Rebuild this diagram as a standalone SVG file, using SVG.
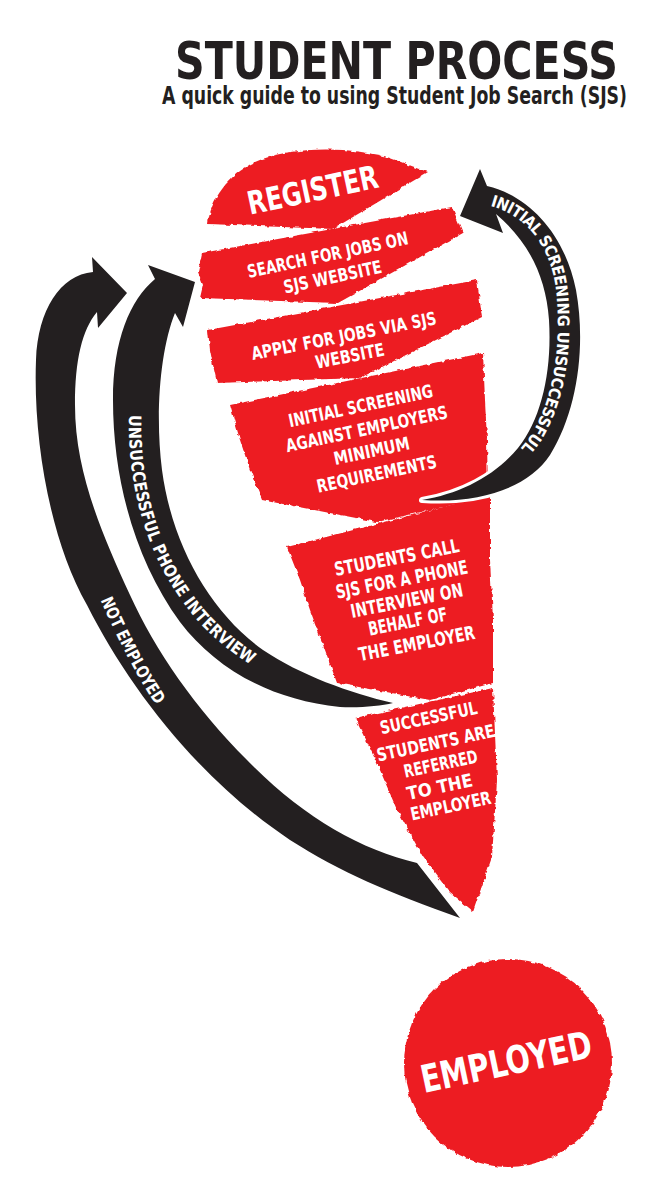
<svg xmlns="http://www.w3.org/2000/svg" width="667" height="1200" viewBox="0 0 667 1200">
<defs>
<style>
.t{font-family:"DejaVu Sans Condensed","DejaVu Sans","Liberation Sans",sans-serif;font-weight:bold;font-stretch:condensed}
.red{fill:#ed1c24}
.w{fill:#ffffff;text-anchor:middle}
.arrow{fill:#231f20;stroke:#ffffff;stroke-width:6;stroke-linejoin:round;paint-order:stroke}
.lab{fill:#ffffff;dominant-baseline:central}
</style>
<filter id="rough" x="-5%" y="-5%" width="110%" height="110%">
<feTurbulence type="fractalNoise" baseFrequency="0.18" numOctaves="2" seed="3" result="n"/>
<feDisplacementMap in="SourceGraphic" in2="n" scale="4" xChannelSelector="R" yChannelSelector="G"/>
</filter>
<path id="pRight" d="M 492,200 C 535,212 560,250 563,300 C 566,350 560,400 535,440 C 515,468 490,482 470,490"/>
<path id="pMid" d="M 135,415 C 133,500 160,570 205,620 C 225,640 240,652 262,664"/>
<path id="pLeft" d="M 105,595 C 120,630 140,672 168,712"/>
</defs>
<rect width="667" height="1200" fill="#ffffff"/>

<g id="title" class="t">
<text x="175" y="79" font-size="51" fill="#231f20" textLength="443" lengthAdjust="spacingAndGlyphs">STUDENT PROCESS</text>
<text x="162" y="104" font-size="24" fill="#231f20" textLength="465" lengthAdjust="spacingAndGlyphs">A quick guide to using Student Job Search (SJS)</text>
</g>

<g id="register">
<path class="red" filter="url(#rough)" d="M 208,224 C 210,200 228,175 255,162 C 290,146 350,146 390,158 L 428,172 L 333,229 Z"/>
<text class="t w" font-size="32" transform="translate(315,201) rotate(-12)" textLength="133" lengthAdjust="spacingAndGlyphs">REGISTER</text>
</g>

<g id="search">
<path class="red" filter="url(#rough)" d="M 202,253 L 452,207 L 463,233 L 338,303 L 200,298 L 203,285 L 198,272 Z"/>
<g class="t w" font-size="18">
<text transform="translate(329,261) rotate(-12)" textLength="164" lengthAdjust="spacingAndGlyphs">SEARCH FOR JOBS ON</text>
<text transform="translate(334,283) rotate(-12)" textLength="100" lengthAdjust="spacingAndGlyphs">SJS WEBSITE</text>
</g>
</g>

<g id="apply">
<path class="red" filter="url(#rough)" d="M 208,330 L 477,280 L 482,317 L 360,378 L 217,383 L 213,365 L 210,350 Z"/>
<g class="t w" font-size="18">
<text transform="translate(345,342) rotate(-11)" textLength="188" lengthAdjust="spacingAndGlyphs">APPLY FOR JOBS VIA SJS</text>
<text transform="translate(351,362) rotate(-11)" textLength="70" lengthAdjust="spacingAndGlyphs">WEBSITE</text>
</g>
</g>

<g id="screening">
<path class="red" filter="url(#rough)" d="M 230,405 L 483,353 L 485,400 L 487,440 L 488,497 L 377,522 L 262,500 L 250,470 L 240,440 Z"/>
<g class="t w" font-size="18">
<text transform="translate(362,412) rotate(-12)" textLength="147" lengthAdjust="spacingAndGlyphs">INITIAL SCREENING</text>
<text transform="translate(368,435) rotate(-12)" textLength="165" lengthAdjust="spacingAndGlyphs">AGAINST EMPLOYERS</text>
<text transform="translate(373,457) rotate(-12)" textLength="77" lengthAdjust="spacingAndGlyphs">MINIMUM</text>
<text transform="translate(378,480) rotate(-12)" textLength="122" lengthAdjust="spacingAndGlyphs">REQUIREMENTS</text>
</g>
</g>

<g id="phone">
<path class="red" filter="url(#rough)" d="M 287,547 L 490,495 L 490,560 L 493,620 L 493,683 L 430,700 L 337,683 L 325,650 L 310,610 L 300,580 Z"/>
<g class="t w" font-size="19">
<text transform="translate(398,564) rotate(-11)" textLength="127" lengthAdjust="spacingAndGlyphs">STUDENTS CALL</text>
<text transform="translate(403,586) rotate(-11)" textLength="134" lengthAdjust="spacingAndGlyphs">SJS FOR A PHONE</text>
<text transform="translate(408,607) rotate(-11)" textLength="114" lengthAdjust="spacingAndGlyphs">INTERVIEW ON</text>
<text transform="translate(409,628) rotate(-11)" textLength="80" lengthAdjust="spacingAndGlyphs">BEHALF OF</text>
<text transform="translate(418,650) rotate(-11)" textLength="118" lengthAdjust="spacingAndGlyphs">THE EMPLOYER</text>
</g>
</g>

<g id="referred">
<path class="red" filter="url(#rough)" d="M 355,718 L 493,688 L 497,780 L 492,857 L 473,912 L 450,893 L 423,857 L 397,810 L 377,763 Z"/>
<g class="t w" font-size="18">
<text transform="translate(430,724) rotate(-12)" textLength="99" lengthAdjust="spacingAndGlyphs">SUCCESSFUL</text>
<text transform="translate(437,749) rotate(-12)" textLength="120" lengthAdjust="spacingAndGlyphs">STUDENTS ARE</text>
<text transform="translate(442,770) rotate(-12)" textLength="75" lengthAdjust="spacingAndGlyphs">REFERRED</text>
<text transform="translate(441,793) rotate(-12)" textLength="67" lengthAdjust="spacingAndGlyphs">TO THE</text>
<text transform="translate(452,812) rotate(-12)" textLength="82" lengthAdjust="spacingAndGlyphs">EMPLOYER</text>
</g>
</g>

<g id="employed">
<circle class="red" filter="url(#rough)" cx="508" cy="1063" r="104"/>
<text class="t w" font-size="38" transform="translate(509,1075) rotate(-12)" textLength="174" lengthAdjust="spacingAndGlyphs">EMPLOYED</text>
</g>

<g id="connectors">
<g id="arrow-screening">
<path class="arrow" d="M 460,216 L 480,169 L 487,186 C 530,196 565,235 576,290 C 586,345 578,410 550,455 C 528,488 480,504 422,500 C 460,494 495,476 518,448 C 542,418 552,370 549,320 C 546,275 527,240 496,214 L 503,233 Z"/>
<text class="t lab" font-size="16"><textPath href="#pRight" textLength="292" lengthAdjust="spacingAndGlyphs">INITIAL SCREENING UNSUCCESSFUL</textPath></text>
</g>
<g id="arrow-phone">
<path class="arrow" d="M 148,265 L 195,282 L 183,327 L 175,313 C 160,350 155,415 162,470 C 172,545 210,612 263,650 C 300,675 350,693 393,703 C 380,706 360,708 340,707 C 270,700 215,668 180,622 C 135,560 113,480 113,400 C 113,340 130,300 155,279 Z"/>
<text class="t lab" font-size="17"><textPath href="#pMid" textLength="285" lengthAdjust="spacingAndGlyphs">UNSUCCESSFUL PHONE INTERVIEW</textPath></text>
</g>
<g id="arrow-not-employed">
<path class="arrow" d="M 92,257 L 127,293 L 98,328 L 97,312 C 82,330 75,360 75,405 C 75,470 100,530 130,595 C 155,650 195,708 247,760 C 300,815 360,850 417,863 L 460,918 C 390,893 340,872 290,840 C 200,780 130,690 87,605 C 50,540 33,440 36,360 C 38,310 60,275 93,272 Z"/>
<text class="t lab" font-size="17"><textPath href="#pLeft" startOffset="3" textLength="118" lengthAdjust="spacingAndGlyphs">NOT EMPLOYED</textPath></text>
</g>
</g>
</svg>
